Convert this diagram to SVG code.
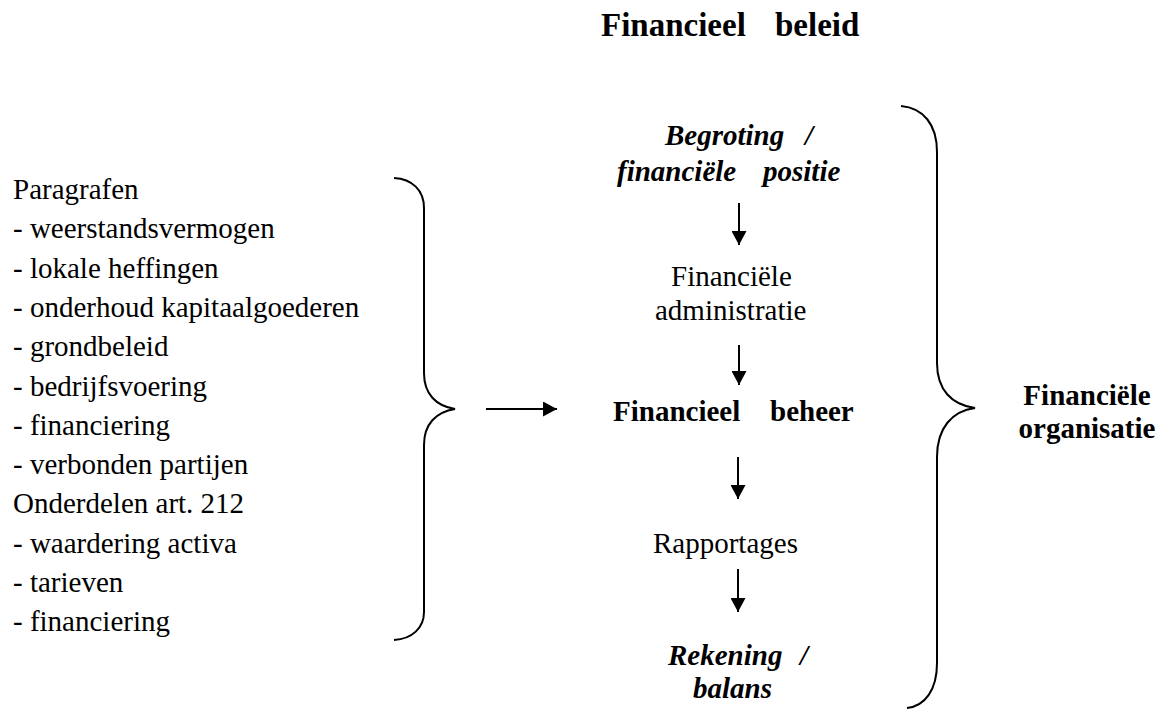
<svg xmlns="http://www.w3.org/2000/svg" width="1168" height="710" viewBox="0 0 1168 710">
<style>
text{font-family:"Liberation Serif","Times New Roman",serif;font-size:29px;fill:#000}
.b{font-weight:bold}
.bi{font-weight:bold;font-style:italic}
.title{font-weight:bold;font-size:33px}
.brace{fill:none;stroke:#000;stroke-width:2}
.arr{fill:none;stroke:#000;stroke-width:2;marker-end:url(#ah)}
</style>
<defs>
<marker id="ah" markerUnits="userSpaceOnUse" viewBox="0 0 14 15" refX="14" refY="7.5" markerWidth="14" markerHeight="15" orient="auto">
<path d="M0,0 L14,7.5 L0,15 Z" fill="#000"/>
</marker>
</defs>
<rect width="1168" height="710" fill="#fff"/>
<g id="title"><text class="title" x="601" y="36">Financieel<tspan x="775">beleid</tspan></text></g>
<g id="list">
<text x="13" y="199">Paragrafen</text>
<text x="13" y="238.3">- weerstandsvermogen</text>
<text x="13" y="277.6">- lokale heffingen</text>
<text x="13" y="316.9">- onderhoud kapitaalgoederen</text>
<text x="13" y="356.2">- grondbeleid</text>
<text x="13" y="395.5">- bedrijfsvoering</text>
<text x="13" y="434.8">- financiering</text>
<text x="13" y="474.1">- verbonden partijen</text>
<text x="13" y="513.4">Onderdelen art. 212</text>
<text x="13" y="552.7">- waardering activa</text>
<text x="13" y="592">- tarieven</text>
<text x="13" y="631.3">- financiering</text>
</g>
<g id="left-brace"><path class="brace" d="M394,178 C412,179 424,190 424,208 L424,373 C424,394 436,406 455,409 C436,412 424,424 424,445 L424,612 C424,628 412,639 394,640"/></g>
<g id="begroting"><text class="bi" x="665" y="145">Begroting<tspan x="805">/</tspan></text><text class="bi" x="617" y="181">financiële<tspan x="763">positie</tspan></text></g>
<g id="administratie"><text x="671" y="286">Financiële</text><text x="655" y="320">administratie</text></g>
<g id="beheer"><text class="b" x="613" y="421">Financieel<tspan x="770">beheer</tspan></text></g>
<g id="rapportages"><text x="653" y="553">Rapportages</text></g>
<g id="rekening"><text class="bi" x="668" y="665">Rekening<tspan x="800">/</tspan></text><text class="bi" x="693" y="698">balans</text></g>
<g id="right-brace"><path class="brace" d="M901,106 C923,108 937,124 937,152 L937,363 C937,390 952,405 975,408 C952,411 937,428 937,457 L937,663 C937,690 925,706 907,708"/></g>
<g id="organisatie"><text class="b" x="1087" y="405" text-anchor="middle">Financiële</text><text class="b" x="1087" y="438" text-anchor="middle">organisatie</text></g>
<g id="connectors">
<line class="arr" x1="486" y1="409" x2="557" y2="409"/>
<line class="arr" x1="739" y1="203" x2="739" y2="245"/>
<line class="arr" x1="739" y1="345" x2="739" y2="385"/>
<line class="arr" x1="738" y1="457" x2="738" y2="499"/>
<line class="arr" x1="738" y1="569" x2="738" y2="612"/>
</g>
</svg>
